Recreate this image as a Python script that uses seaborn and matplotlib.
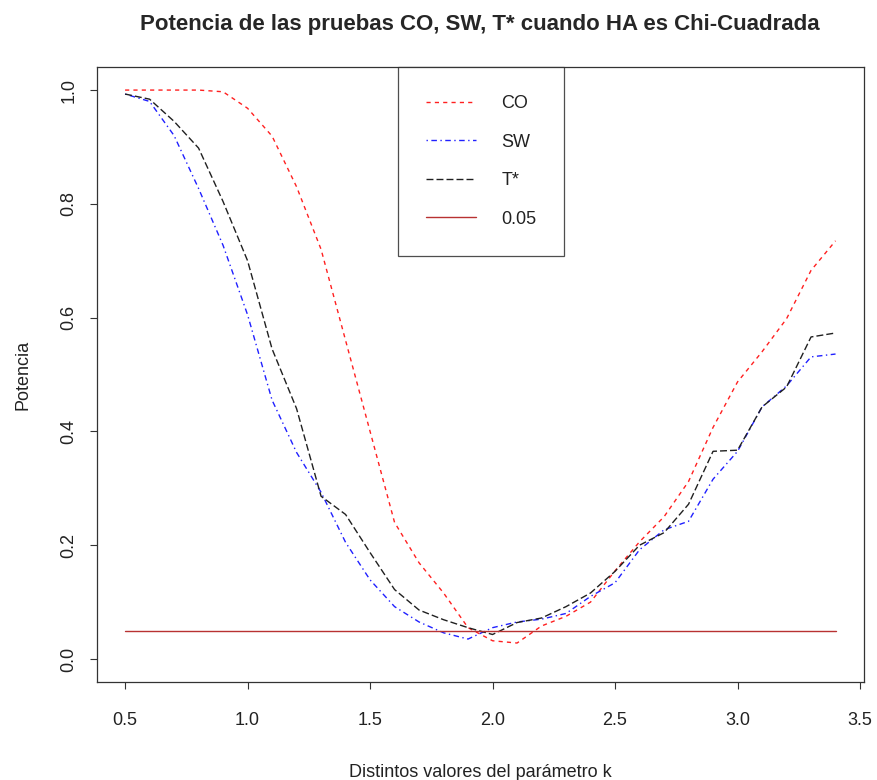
import numpy as np
import pandas as pd
import seaborn as sns
import matplotlib.pyplot as plt
from matplotlib.lines import Line2D

# valores del parametro k
k = [0.5, 0.6, 0.7, 0.8, 0.9, 1.0, 1.1, 1.2, 1.3, 1.4,
     1.5, 1.6, 1.7, 1.8, 1.9, 2.0, 2.1, 2.2, 2.3, 2.4,
     2.5, 2.6, 2.7, 2.8, 2.9, 3.0, 3.1, 3.2, 3.3, 3.4]

co = [1.000, 1.000, 1.000, 1.000, 0.997, 0.968, 0.919, 0.830, 0.720, 0.560,
      0.400, 0.240, 0.169, 0.116, 0.055, 0.032, 0.028, 0.058, 0.075, 0.100,
      0.155, 0.206, 0.250, 0.312, 0.407, 0.487, 0.540, 0.598, 0.683, 0.735]

sw = [0.993, 0.980, 0.920, 0.827, 0.727, 0.605, 0.455, 0.363, 0.293, 0.205,
      0.139, 0.092, 0.065, 0.046, 0.035, 0.055, 0.065, 0.070, 0.080, 0.110,
      0.134, 0.192, 0.227, 0.242, 0.316, 0.365, 0.443, 0.480, 0.531, 0.536]

tstar = [0.993, 0.984, 0.945, 0.898, 0.804, 0.700, 0.545, 0.440, 0.286, 0.254,
         0.187, 0.122, 0.086, 0.069, 0.055, 0.043, 0.064, 0.072, 0.092, 0.116,
         0.154, 0.200, 0.222, 0.272, 0.365, 0.367, 0.443, 0.478, 0.566, 0.573]

alpha = 0.05

series = ["CO", "SW", "T*", "0.05"]
colors = {"CO": "#FF2020", "SW": "#2020FF", "T*": "#202020", "0.05": "#B83232"}
dashes = {"CO": (3, 3), "SW": (1, 2.5, 4, 2.5), "T*": (5, 2.2), "0.05": ""}

df = pd.concat([
    pd.DataFrame({"k": k, "potencia": co, "prueba": "CO"}),
    pd.DataFrame({"k": k, "potencia": sw, "prueba": "SW"}),
    pd.DataFrame({"k": k, "potencia": tstar, "prueba": "T*"}),
    pd.DataFrame({"k": k, "potencia": [alpha] * len(k), "prueba": "0.05"}),
])

sns.set_style("white")
plt.rcParams['font.family'] = ['Liberation Sans', 'DejaVu Sans']
plt.rcParams['lines.scale_dashes'] = False

fig = plt.figure(figsize=(8.78, 7.8), dpi=100)
ax = fig.add_axes([0.1101, 0.126, 0.984 - 0.1101, 0.9137 - 0.126])

sns.lineplot(data=df, x="k", y="potencia", hue="prueba", style="prueba",
             hue_order=series, style_order=series, palette=colors,
             dashes=dashes, linewidth=1.0, legend=False, ax=ax)

ax.set_xlim(0.384, 3.516)
ax.set_ylim(-0.04, 1.04)
ax.set_xticks([0.5, 1.0, 1.5, 2.0, 2.5, 3.0, 3.5])
ax.set_yticks([0.0, 0.2, 0.4, 0.6, 0.8, 1.0])
ax.set_xticklabels(["0.5", "1.0", "1.5", "2.0", "2.5", "3.0", "3.5"])
ax.set_yticklabels(["0.0", "0.2", "0.4", "0.6", "0.8", "1.0"],
                   rotation=90, va="center")
ax.tick_params(axis="both", direction="out", length=5, width=0.8,
               color="#333333", labelsize=13, labelcolor="#222222",
               bottom=True, left=True)
ax.tick_params(axis="x", pad=17)
ax.tick_params(axis="y", pad=9)
for s in ax.spines.values():
    s.set_color("#333333")
    s.set_linewidth(0.9)

ax.set_xlabel("Distintos valores del parámetro k", fontsize=13,
              color="#222222", labelpad=25)
ax.set_ylabel("Potencia", fontsize=13, color="#222222", labelpad=21)
ax.set_title("Potencia de las pruebas CO, SW, T* cuando HA es Chi-Cuadrada",
             fontsize=16, fontweight="bold", pad=27)

handles = [Line2D([], [], color=colors[s], linewidth=1.0,
                  linestyle=(0, dashes[s]) if dashes[s] else "-")
           for s in series]
leg = ax.legend(handles, series, loc="upper left",
                bbox_to_anchor=(0.3927, 1.0), borderaxespad=0,
                fontsize=13, frameon=True, fancybox=False,
                handlelength=2.78, handletextpad=1.39, labelspacing=1.19,
                borderpad=1.55)
leg.get_frame().set_edgecolor("#222222")
leg.get_frame().set_linewidth(0.9)
for t in leg.get_texts():
    t.set_color("#222222")

fig.savefig("out.png", dpi=100)
